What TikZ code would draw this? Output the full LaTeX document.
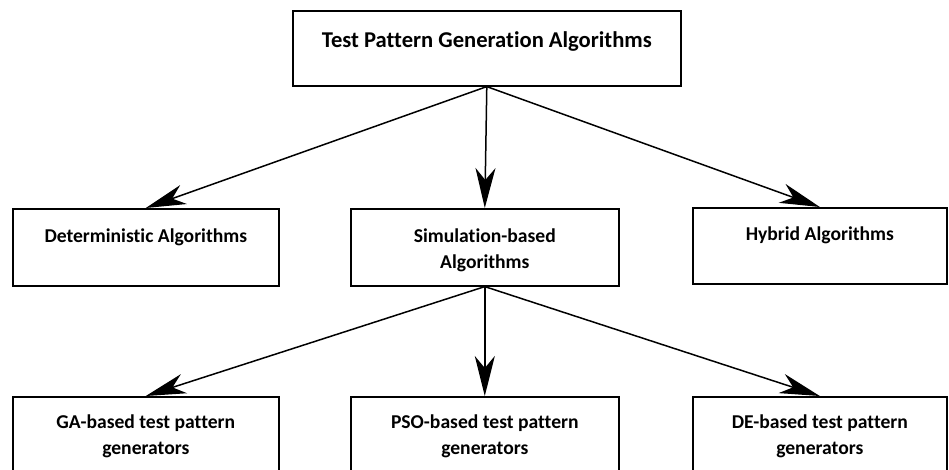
\documentclass[tikz,border=0pt]{standalone}
\usepackage{fontspec}
\setmainfont[Ligatures=NoCommon]{Carlito}
\usepackage{tikz}
\usetikzlibrary{arrows.meta}
\tikzset{
  box/.style={draw, line width=1.6pt, anchor=north west, inner sep=0pt},
  lbl/.style={anchor=north, inner sep=0pt, align=center, font=\bfseries\fontsize{19.6}{26}\selectfont},
  arr/.style={line width=1.5pt, -{Stealth[length=40pt,width=20pt,inset=12pt]}}
}
\begin{document}
\begin{tikzpicture}[x=1pt,y=-1pt]
\useasboundingbox (0,0) rectangle (949,470);
\clip (0,0) rectangle (949,470);

% Top level
\node[box, minimum width=388pt, minimum height=75pt] (tpg) at (292,10) {};
\node[lbl, font=\bfseries\fontsize{22.6}{26}\selectfont] (tpgtxt) at ([yshift=-21pt]tpg.north) {Test Pattern Generation Algorithms};

% Second level
\node[box, minimum width=266pt, minimum height=77pt] (det) at (12,208) {};
\node[box, minimum width=268pt, minimum height=77pt] (sim) at (350,208) {};
\node[box, minimum width=254pt, minimum height=76pt] (hyb) at (692,207) {};
\node[lbl] (dettxt) at ([yshift=-21pt]det.north) {Deterministic Algorithms};
\node[lbl] (simtxt) at ([yshift=-21pt]sim.north) {Simulation-based\\Algorithms};
\node[lbl] (hybtxt) at ([yshift=-20pt]hyb.north) {Hybrid Algorithms};

% Third level
\node[box, minimum width=266pt, minimum height=80pt] (ga) at (12,396) {};
\node[box, minimum width=268pt, minimum height=80pt] (pso) at (350,396) {};
\node[box, minimum width=254pt, minimum height=80pt] (de) at (692,396) {};
\node[lbl] (gatxt) at ([yshift=-19pt]ga.north) {GA-based test pattern\\generators};
\node[lbl] (psotxt) at ([yshift=-19pt]pso.north) {PSO-based test pattern\\generators};
\node[lbl] (detxt) at ([yshift=-19pt]de.north) {DE-based test pattern\\generators};

% Arrows
\foreach \b in {det,sim,hyb}
  \draw[arr] (tpg.south) -- (\b.north);
\foreach \b in {ga,pso,de}
  \draw[arr] (sim.south) -- (\b.north);

\end{tikzpicture}
\end{document}
